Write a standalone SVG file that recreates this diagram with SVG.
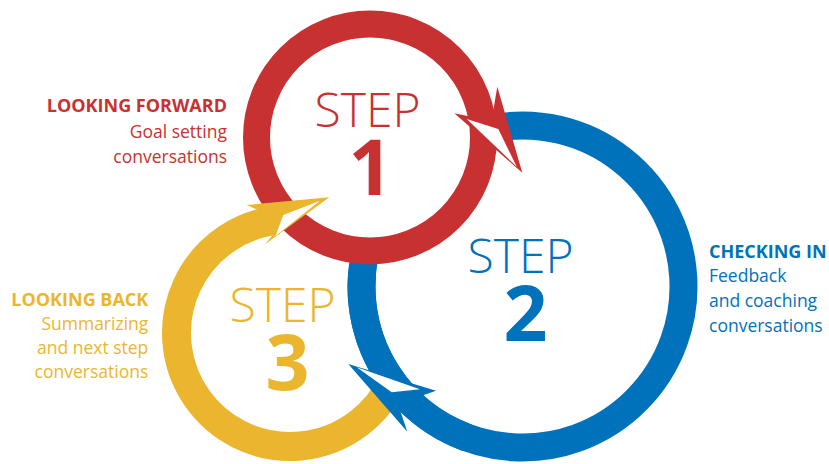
<svg xmlns="http://www.w3.org/2000/svg" width="829" height="464" viewBox="0 0 829 464">
<style>
.ring{fill:none}
.rs{stroke:#C83131}
.bs{stroke:#0072BB}
.ys{stroke:#EBB62E}
.rf{fill:#C83131}
.bf{fill:#0072BB}
.yf{fill:#EBB62E}
.sliver{fill:#FFFFFF}
text{font-family:"Open Sans","Liberation Sans",sans-serif}
.step{font-weight:300;font-size:48px;text-anchor:middle}
.num{font-weight:700;font-size:77px;text-anchor:middle}
.head{font-weight:700;font-size:18px}
.body{font-weight:400;font-size:17.5px}
.end{text-anchor:end}
</style>
<rect x="0" y="0" width="829" height="464" fill="#FFFFFF"/>
<g id="connectors">
  <path id="arc-blue" class="ring bs" stroke-width="28" d="M494.54,127.95 A161,161 0 1 1 363.95,258.54"/>
  <circle id="ring-red" class="ring rs" stroke-width="27" cx="370" cy="137.5" r="113.5"/>
  <g id="arrow-red">
    <polygon class="rf" points="522.3,172.7 497.3,86.7 491.5,121 454.3,113.3"/>
    <polygon class="sliver" points="466.7,119 498.3,129 516.7,166.7"/>
  </g>
  <path id="arc-yellow" class="ring ys" stroke-width="29" d="M392.87,380.97 A113.5,113.5 0 1 1 278.14,220.12"/>
  <g id="arrow-yellow">
    <polygon class="yf" points="329.3,197.3 246.7,205 262,212 276,231 265,244.3"/>
    <polygon class="sliver" points="320,200.7 283.3,215 275.5,236"/>
  </g>
  <path id="arc-blue-front" class="ring bs" stroke-width="28" d="M467.43,437.79 A161,161 0 0 1 362.11,272.47"/>
  <g id="arrow-blue">
    <polygon class="bf" points="348.3,364 436,390.7 398,404 407.3,431.7"/>
    <polygon class="sliver" points="356.7,367.3 420,389.3 391.7,392.3"/>
  </g>
</g>
<g id="step1">
  <text class="step rf" x="367.5" y="126.7">STEP</text>
  <text class="num rf" x="370.5" y="195">1</text>
</g>
<g id="step2">
  <text class="step bf" x="520.5" y="272.7">STEP</text>
  <text class="num bf" x="525.5" y="340.7">2</text>
</g>
<g id="step3">
  <text class="step yf" x="282.5" y="321.7">STEP</text>
  <text class="num yf" x="287.5" y="390">3</text>
</g>
<g id="label-forward" class="rf">
  <text class="head end" x="227" y="111.7">LOOKING FORWARD</text>
  <text class="body end" x="227" y="138.3">Goal setting</text>
  <text class="body end" x="227" y="162.7">conversations</text>
</g>
<g id="label-checking" class="bf">
  <text class="head" x="709" y="258.3">CHECKING IN</text>
  <text class="body" x="709" y="281.7">Feedback</text>
  <text class="body" x="709" y="306.7">and coaching</text>
  <text class="body" x="709" y="331.7">conversations</text>
</g>
<g id="label-back" class="yf">
  <text class="head end" x="148.3" y="306">LOOKING BACK</text>
  <text class="body end" x="148.3" y="330">Summarizing</text>
  <text class="body end" x="148.3" y="354">and next step</text>
  <text class="body end" x="148.3" y="378.3">conversations</text>
</g>
</svg>
